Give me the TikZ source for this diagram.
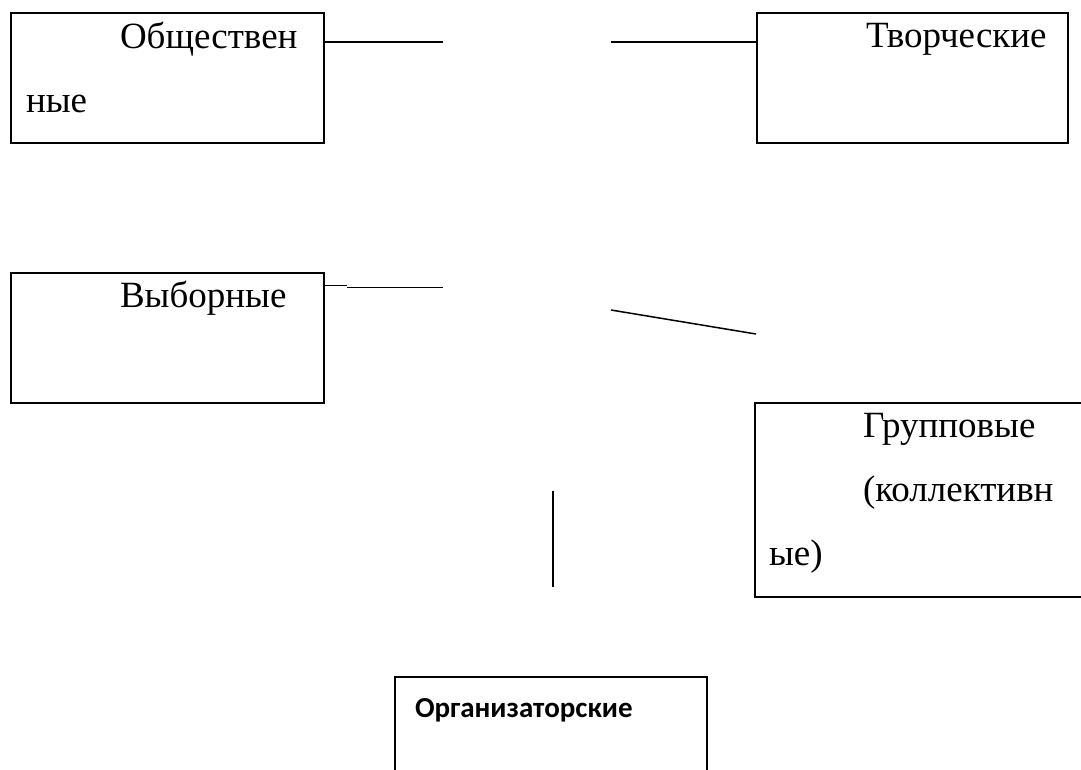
\documentclass[tikz,border=0pt]{standalone}
\usepackage{fontspec}
\setmainfont{Liberation Serif}
\newfontfamily\calfont{Carlito}
\begin{document}
\begin{tikzpicture}[x=1pt,y={(0pt,-1pt)},
  box/.style={draw=black,line width=2pt,rectangle,inner sep=0pt,outer sep=0pt,anchor=north west},
  lbl/.style={inner sep=0pt,outer sep=0pt,anchor=base west,font=\fontsize{37}{45}\selectfont},
  olbl/.style={inner sep=0pt,outer sep=0pt,anchor=base west,font=\calfont\bfseries\fontsize{29}{35}\selectfont},
  conn/.style={draw=black,line width=1.5pt}]
\useasboundingbox (0,0) rectangle (1081,769);
% boxes
\node[box,minimum width=313pt,minimum height=130pt] (b1) at (11,13) {};
\node[box,minimum width=311pt,minimum height=130pt] (b2) at (757,13) {};
\node[box,minimum width=313pt,minimum height=130pt] (b3) at (11,273) {};
\node[box,minimum width=340pt,minimum height=194pt] (b4) at (755,403) {};
\node[box,minimum width=312pt,minimum height=110pt] (b5) at (395,677) {};
% labels
\node[lbl] (t1a) at (120,48) {Обществен};
\node[lbl] (t1b) at (26,112) {ные};
\node[lbl] (t2) at (866,47) {Творческие};
\node[lbl] (t3) at (120,307) {Выборные};
\node[lbl] (t4a) at (863,437) {Групповые};
\node[lbl] (t4b) at (863,501) {(коллективн};
\node[lbl] (t4c) at (769,565) {ые)};
\node[olbl] (t5) at (415,717) {Организаторские};
% free ends
\coordinate (c1) at (443,42);
\coordinate (c2) at (611,42);
\coordinate (c3a) at (347,285.7);
\coordinate (c3b) at (347,287.3);
\coordinate (c3) at (443,287.3);
\coordinate (c4) at (611,310);
\coordinate (c5a) at (553,491);
\coordinate (c5b) at (553,587);
% connectors
\draw[conn] (b1.east |- c1) -- (c1);
\draw[conn] (c2) -- (b2.west |- c2);
\draw[conn] (b3.east |- c3a) -- (c3a);
\draw[conn] (c3b) -- (c3);
\draw[conn] (c4) -- (756,334);
\draw[conn] (c5a) -- (c5b);
\end{tikzpicture}
\end{document}
